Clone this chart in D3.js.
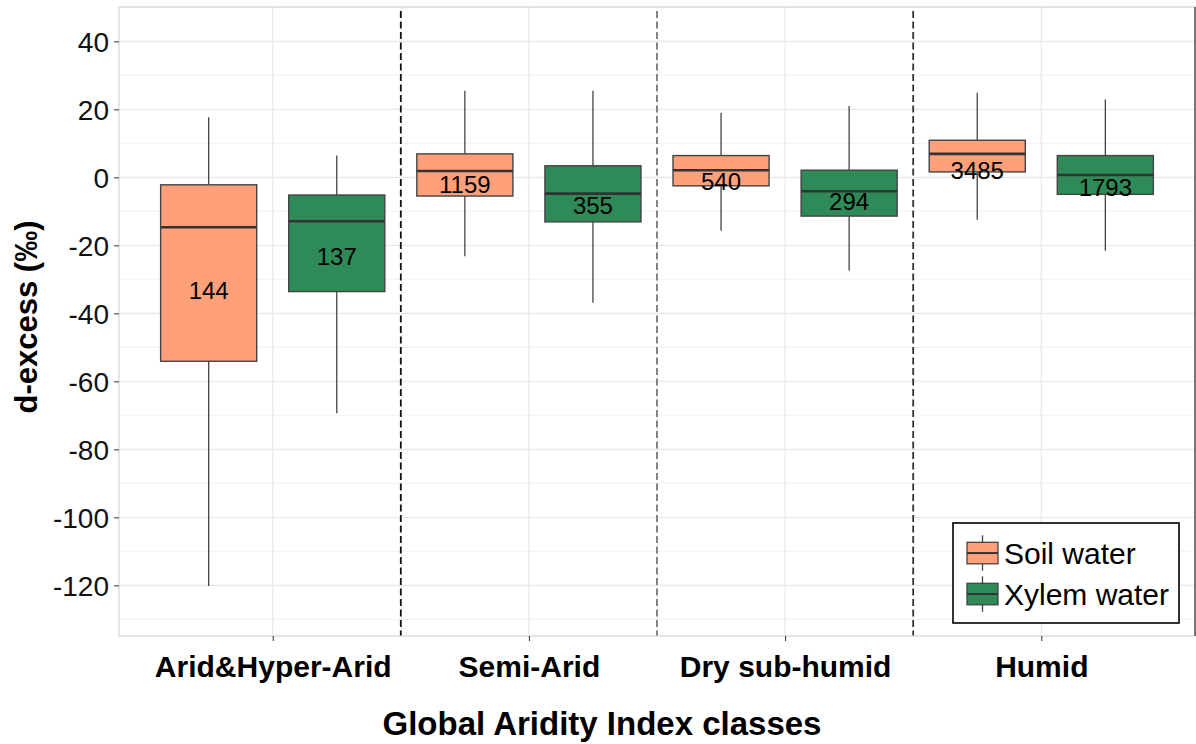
<!DOCTYPE html>
<html>
<head>
<meta charset="utf-8">
<script src="https://cdn.jsdelivr.net/npm/d3@7"></script>
<style>
  html, body { margin: 0; padding: 0; background: #fff; }
  svg { display: block; font-family: "Liberation Sans", Arial, Helvetica, sans-serif; }
</style>
</head>
<body>
<svg id="chart" width="1196" height="744"></svg>
<script>
// Aridity classes on the x axis
const categories = ["Arid&Hyper-Arid", "Semi-Arid", "Dry sub-humid", "Humid"];
const groups = ["Soil water", "Xylem water"];
const groupColors = ["#FFA07A", "#2E8B57"];

// Soil water box statistics (‰)
const soilLow    = [-120.2, -23.2, -15.7, -12.5];
const soilQ1     = [-54.1,  -5.5,  -2.5,   1.6];
const soilMedian = [-14.7,   1.85,  2.1,   6.9];
const soilQ3     = [-2.2,    6.9,   6.4,  10.9];
const soilHigh   = [17.7,   25.5,  19.0,  24.9];
const soilMean   = [-33.3,  -2.1,  -1.3,   2.1];
const soilN      = [144, 1159, 540, 3485];

// Xylem water box statistics (‰)
const xylemLow    = [-69.4, -36.9, -27.5, -21.6];
const xylemQ1     = [-33.6, -13.1, -11.4,  -5.0];
const xylemMedian = [-12.9,  -4.8,  -4.1,   0.7];
const xylemQ3     = [-5.2,    3.4,   2.1,   6.4];
const xylemHigh   = [6.4,    25.5,  21.0,  22.9];
const xylemMean   = [-23.3,  -8.3,  -7.2,  -2.9];
const xylemN      = [137, 355, 294, 1793];

const yTicks = [-120, -100, -80, -60, -40, -20, 0, 20, 40];
const yMinor = [-130, -110, -90, -70, -50, -30, -10, 10, 30, 50];

const svg = d3.select("#chart");
const panel = { left: 119, right: 1195, top: 7, bottom: 636 };

const x = d3.scaleLinear().domain([0.4, 4.6]).range([panel.left, panel.right]);
const y = d3.scaleLinear().domain([-134.9, 50.1]).range([panel.bottom, panel.top]);
const unit = x(1) - x(0);
const dodge = 0.25, boxW = 0.375 * unit;

// panel gridlines
const grid = svg.append("g");
grid.selectAll(".ymin").data(yMinor).join("line")
  .attr("x1", panel.left).attr("x2", panel.right)
  .attr("y1", d => y(d)).attr("y2", d => y(d))
  .attr("stroke", "#f2f2f2").attr("stroke-width", 1);
grid.selectAll(".ymaj").data(yTicks).join("line")
  .attr("x1", panel.left).attr("x2", panel.right)
  .attr("y1", d => y(d)).attr("y2", d => y(d))
  .attr("stroke", "#e8e8e8").attr("stroke-width", 1.2);
grid.selectAll(".xmaj").data(categories).join("line")
  .attr("x1", (d, i) => x(i + 1)).attr("x2", (d, i) => x(i + 1))
  .attr("y1", panel.top).attr("y2", panel.bottom)
  .attr("stroke", "#e8e8e8").attr("stroke-width", 1.2);

// dashed separators between classes
const sepColors = ["#111", "#777", "#333"];
svg.append("g").selectAll("line").data([1.5, 2.5, 3.5]).join("line")
  .attr("x1", d => x(d)).attr("x2", d => x(d))
  .attr("y1", panel.top + 4).attr("y2", panel.bottom)
  .attr("stroke", (d, i) => sepColors[i])
  .attr("stroke-width", 1.8)
  .attr("stroke-dasharray", "7,3.5");

// boxplots
const series = [
  { low: soilLow, q1: soilQ1, med: soilMedian, q3: soilQ3, high: soilHigh, mean: soilMean, n: soilN, off: -dodge, color: groupColors[0] },
  { low: xylemLow, q1: xylemQ1, med: xylemMedian, q3: xylemQ3, high: xylemHigh, mean: xylemMean, n: xylemN, off: dodge, color: groupColors[1] }
];

const boxes = svg.append("g");
series.forEach(s => {
  categories.forEach((c, i) => {
    const cx = x(i + 1 + s.off);
    const g = boxes.append("g");
    g.append("line").attr("x1", cx).attr("x2", cx)
      .attr("y1", y(s.high[i])).attr("y2", y(s.q3[i]))
      .attr("stroke", "#444").attr("stroke-width", 1.3);
    g.append("line").attr("x1", cx).attr("x2", cx)
      .attr("y1", y(s.q1[i])).attr("y2", y(s.low[i]))
      .attr("stroke", "#444").attr("stroke-width", 1.3);
    g.append("rect")
      .attr("x", cx - boxW / 2).attr("width", boxW)
      .attr("y", y(s.q3[i])).attr("height", y(s.q1[i]) - y(s.q3[i]))
      .attr("fill", s.color).attr("stroke", "#444").attr("stroke-width", 1.4);
    g.append("line").attr("x1", cx - boxW / 2).attr("x2", cx + boxW / 2)
      .attr("y1", y(s.med[i])).attr("y2", y(s.med[i]))
      .attr("stroke", "#333").attr("stroke-width", 2.6);
    g.append("text")
      .attr("x", cx).attr("y", y(s.mean[i]) + 0.358 * 24)
      .attr("text-anchor", "middle")
      .attr("font-size", 24).attr("fill", "#000")
      .text(s.n[i]);
  });
});

// panel border
svg.append("rect")
  .attr("x", panel.left).attr("y", panel.top)
  .attr("width", panel.right - panel.left).attr("height", panel.bottom - panel.top)
  .attr("fill", "none").attr("stroke", "#d4d4d4").attr("stroke-width", 1.2);
svg.append("line")
  .attr("x1", panel.right).attr("x2", panel.right)
  .attr("y1", panel.top).attr("y2", panel.bottom)
  .attr("stroke", "#555").attr("stroke-width", 1.5);

// y axis
const yAxis = svg.append("g").attr("transform", `translate(${panel.left},0)`)
  .call(d3.axisLeft(y).tickValues(yTicks).tickSize(5).tickPadding(5).tickFormat(d => String(d)));
yAxis.select(".domain").remove();
yAxis.selectAll(".tick line").attr("stroke", "#333").attr("stroke-width", 1);
yAxis.selectAll(".tick text")
  .attr("font-size", 28).attr("fill", "#111")
  .attr("font-family", "Liberation Sans, Arial, sans-serif")
  .attr("dy", "0.36em");

// x axis
const xAxis = svg.append("g").attr("transform", `translate(0,${panel.bottom})`)
  .call(d3.axisBottom(x).tickValues([1, 2, 3, 4]).tickSize(5).tickPadding(6)
    .tickFormat(d => categories[d - 1]));
xAxis.select(".domain").remove();
xAxis.selectAll(".tick line").attr("stroke", "#333").attr("stroke-width", 1);
xAxis.selectAll(".tick text")
  .attr("font-size", 30).attr("font-weight", "bold").attr("fill", "#000")
  .attr("font-family", "Liberation Sans, Arial, sans-serif")
  .attr("y", 0).attr("dy", 0)
  .attr("transform", "translate(0,41)");

// axis titles
svg.append("text")
  .attr("x", 602).attr("y", 735)
  .attr("text-anchor", "middle")
  .attr("font-size", 33).attr("font-weight", "bold")
  .text("Global Aridity Index classes");
svg.append("text")
  .attr("transform", "translate(37,317) rotate(-90)")
  .attr("text-anchor", "middle")
  .attr("font-size", 31).attr("font-weight", "bold")
  .text("d-excess (‰)");

// legend
const legend = svg.append("g");
legend.append("rect")
  .attr("x", 953).attr("y", 523).attr("width", 226).attr("height", 100)
  .attr("fill", "#fff").attr("stroke", "#000").attr("stroke-width", 1.6);
const keyTop = [542.3, 583.3];
groups.forEach((gname, i) => {
  const top = keyTop[i], h = 21.5, kx = 967, kw = 31;
  const cx = kx + kw / 2;
  legend.append("line").attr("x1", cx).attr("x2", cx)
    .attr("y1", top - 7).attr("y2", top + h + 7)
    .attr("stroke", "#444").attr("stroke-width", 1.3);
  legend.append("rect").attr("x", kx).attr("y", top).attr("width", kw).attr("height", h)
    .attr("fill", groupColors[i]).attr("stroke", "#444").attr("stroke-width", 1.3);
  legend.append("line").attr("x1", kx).attr("x2", kx + kw)
    .attr("y1", top + h / 2).attr("y2", top + h / 2)
    .attr("stroke", "#333").attr("stroke-width", 2);
  legend.append("text")
    .attr("x", 1004).attr("y", top + h)
    .attr("font-size", 30).attr("fill", "#000")
    .text(gname);
});
</script>
</body>
</html>
